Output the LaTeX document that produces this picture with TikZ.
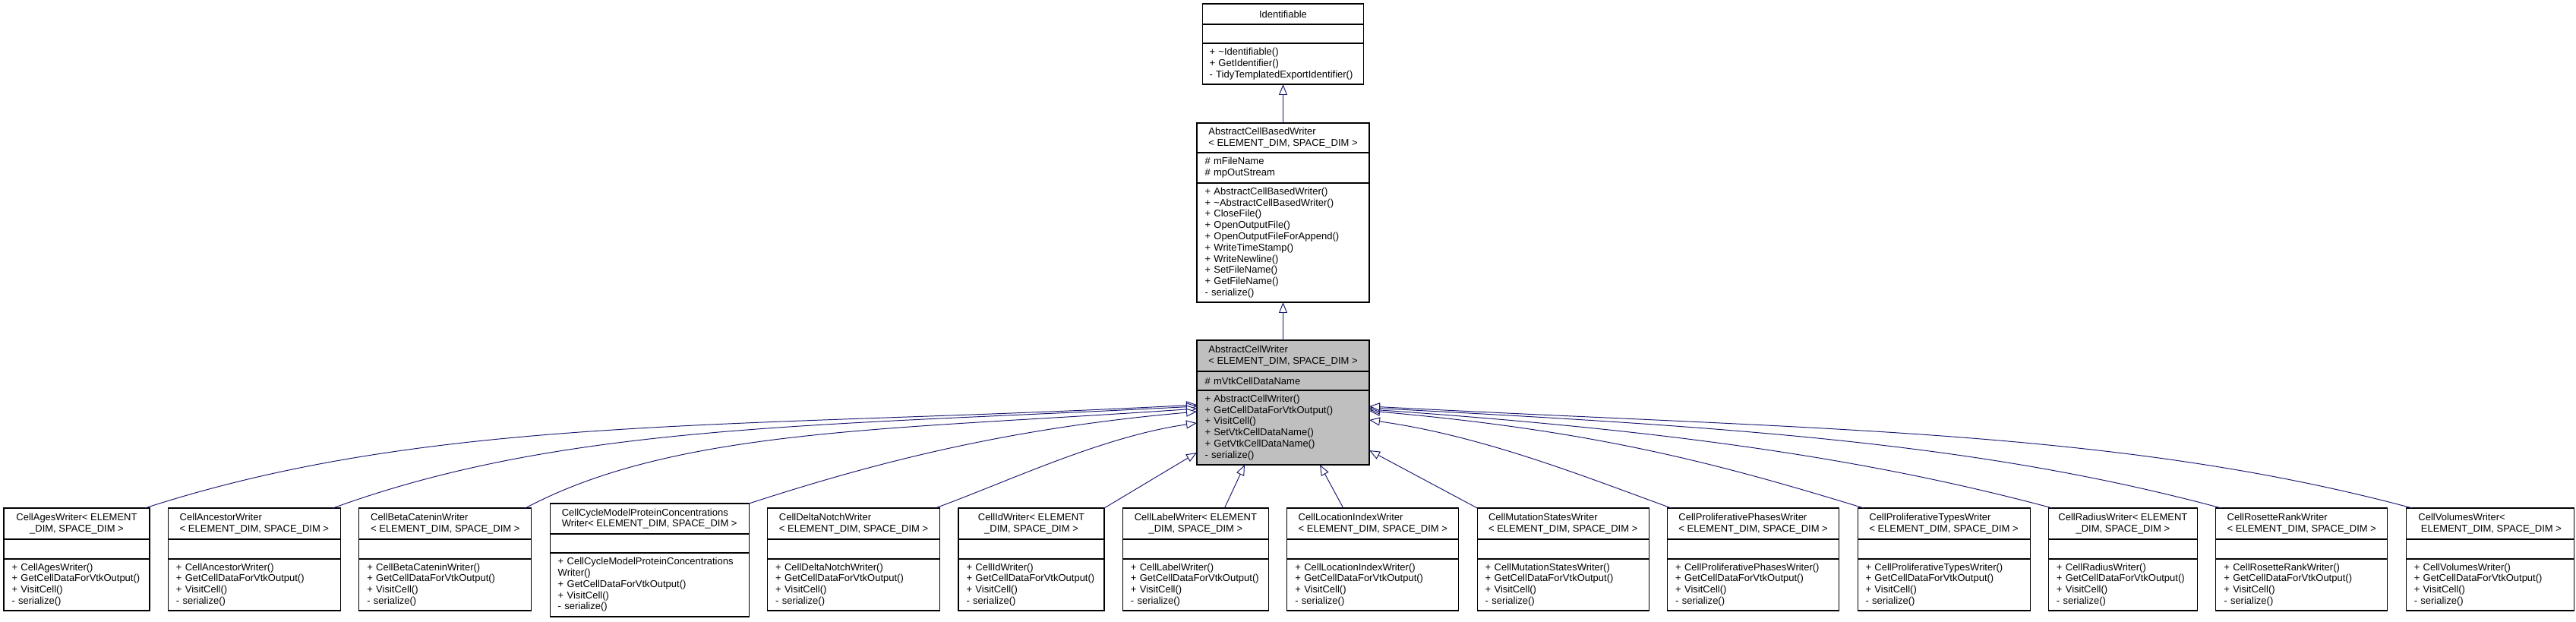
\documentclass[tikz,border=0pt]{standalone}
\usepackage{fontspec}
\setmainfont{Liberation Sans}
\usepackage{tikz}
\usetikzlibrary{arrows.meta,positioning}
\usepackage{xcolor}
\definecolor{dxedge}{RGB}{25,25,112}
\definecolor{dxgrey}{RGB}{191,191,191}
\newcommand{\umlfont}{\fontsize{7.4}{8.4}\selectfont}
\tikzstyle{classhead} = [rectangle, draw=black, line width=0.6pt, outer sep=0pt, inner sep=0pt, align=left, font=\umlfont]
\tikzstyle{classpart} = [rectangle, draw=black, line width=0.6pt, outer sep=0pt, inner xsep=0.21cm, inner ysep=0pt, align=left, font=\umlfont]
\tikzstyle{inheritarrow} = [line width=0.55pt, color=dxedge, -{Triangle[length=0.28cm, width=0.22cm, fill=white]}]

\begin{document}
\begin{tikzpicture}
\useasboundingbox (0,0) rectangle (67.84,-16.38);
% Base classes
\node[classhead, fill=dxgrey, minimum width=4.54cm, minimum height=0.82cm, anchor=north west] (acw) at (31.52,-8.96) {AbstractCellWriter\\< ELEMENT\_DIM, SPACE\_DIM >};
\node[classpart, fill=dxgrey, text width=4.12cm, minimum height=0.5cm, below=0pt of acw] (acw-a) {\# mVtkCellDataName};
\node[classpart, fill=dxgrey, text width=4.12cm, minimum height=1.96cm, below=0pt of acw-a] (acw-m) {+ AbstractCellWriter()\\+ GetCellDataForVtkOutput()\\+ VisitCell()\\+ SetVtkCellDataName()\\+ GetVtkCellDataName()\\- serialize()};

\node[classpart, text width=4.12cm, minimum height=3.14cm, above=1cm of acw] (acbw-m) {+ AbstractCellBasedWriter()\\+ \textasciitilde AbstractCellBasedWriter()\\+ CloseFile()\\+ OpenOutputFile()\\+ OpenOutputFileForAppend()\\+ WriteTimeStamp()\\+ WriteNewline()\\+ SetFileName()\\+ GetFileName()\\- serialize()};
\node[classpart, text width=4.12cm, minimum height=0.8cm, above=0pt of acbw-m] (acbw-a) {\# mFileName\\\# mpOutStream};
\node[classhead, minimum width=4.54cm, minimum height=0.78cm, above=0pt of acbw-a] (acbw) {AbstractCellBasedWriter\\< ELEMENT\_DIM, SPACE\_DIM >};

\node[classpart, inner xsep=0.18cm, text width=3.88cm, minimum height=1.08cm, above=1.02cm of acbw] (ident-m) {+ \textasciitilde Identifiable()\\+ GetIdentifier()\\- TidyTemplatedExportIdentifier()};
\node[classpart, inner xsep=0.18cm, text width=3.88cm, minimum height=0.5cm, above=0pt of ident-m] (ident-a) {};
\node[classhead, minimum width=4.24cm, minimum height=0.54cm, above=0pt of ident-a] (ident) {Identifiable};

\draw[inheritarrow] (acbw.north) -- (ident-m.south);
\draw[inheritarrow] (acw.north) -- (acbw-m.south);

% Writers
\node[classhead, align=center, minimum width=3.84cm, minimum height=0.82cm, anchor=north west] (ages) at (0.1,-13.38) {CellAgesWriter< ELEMENT\\\_DIM, SPACE\_DIM >};
\node[classpart, text width=3.42cm, minimum height=0.52cm, below=0pt of ages] (ages-a) {};
\node[classpart, text width=3.42cm, minimum height=1.36cm, below=0pt of ages-a] (ages-m) {+ CellAgesWriter()\\+ GetCellDataForVtkOutput()\\+ VisitCell()\\- serialize()};

\node[classhead, minimum width=4.54cm, minimum height=0.82cm, right=0.488cm of ages.north east, anchor=north west] (ancestor) {CellAncestorWriter\\< ELEMENT\_DIM, SPACE\_DIM >};
\node[classpart, text width=4.12cm, minimum height=0.52cm, below=0pt of ancestor] (ancestor-a) {};
\node[classpart, text width=4.12cm, minimum height=1.36cm, below=0pt of ancestor-a] (ancestor-m) {+ CellAncestorWriter()\\+ GetCellDataForVtkOutput()\\+ VisitCell()\\- serialize()};

\node[classhead, minimum width=4.54cm, minimum height=0.82cm, right=0.488cm of ancestor.north east, anchor=north west] (beta) {CellBetaCateninWriter\\< ELEMENT\_DIM, SPACE\_DIM >};
\node[classpart, text width=4.12cm, minimum height=0.52cm, below=0pt of beta] (beta-a) {};
\node[classpart, text width=4.12cm, minimum height=1.36cm, below=0pt of beta-a] (beta-m) {+ CellBetaCateninWriter()\\+ GetCellDataForVtkOutput()\\+ VisitCell()\\- serialize()};

\node[classhead, minimum width=5.24cm, minimum height=0.8cm, right=0.488cm of beta.north east, anchor=north west, yshift=0.12cm] (cycle) {CellCycleModelProteinConcentrations\\Writer< ELEMENT\_DIM, SPACE\_DIM >};
\node[classpart, text width=4.82cm, minimum height=0.5cm, below=0pt of cycle] (cycle-a) {};
\node[classpart, text width=4.82cm, minimum height=1.68cm, below=0pt of cycle-a] (cycle-m) {+ CellCycleModelProteinConcentrations\\Writer()\\+ GetCellDataForVtkOutput()\\+ VisitCell()\\- serialize()};

\node[classhead, minimum width=4.54cm, minimum height=0.82cm, right=0.488cm of cycle.north east, anchor=north west, yshift=-0.12cm] (delta) {CellDeltaNotchWriter\\< ELEMENT\_DIM, SPACE\_DIM >};
\node[classpart, text width=4.12cm, minimum height=0.52cm, below=0pt of delta] (delta-a) {};
\node[classpart, text width=4.12cm, minimum height=1.36cm, below=0pt of delta-a] (delta-m) {+ CellDeltaNotchWriter()\\+ GetCellDataForVtkOutput()\\+ VisitCell()\\- serialize()};

\node[classhead, align=center, minimum width=3.84cm, minimum height=0.82cm, right=0.488cm of delta.north east, anchor=north west] (cellid) {CellIdWriter< ELEMENT\\\_DIM, SPACE\_DIM >};
\node[classpart, text width=3.42cm, minimum height=0.52cm, below=0pt of cellid] (cellid-a) {};
\node[classpart, text width=3.42cm, minimum height=1.36cm, below=0pt of cellid-a] (cellid-m) {+ CellIdWriter()\\+ GetCellDataForVtkOutput()\\+ VisitCell()\\- serialize()};

\node[classhead, align=center, minimum width=3.84cm, minimum height=0.82cm, right=0.488cm of cellid.north east, anchor=north west] (label) {CellLabelWriter< ELEMENT\\\_DIM, SPACE\_DIM >};
\node[classpart, text width=3.42cm, minimum height=0.52cm, below=0pt of label] (label-a) {};
\node[classpart, text width=3.42cm, minimum height=1.36cm, below=0pt of label-a] (label-m) {+ CellLabelWriter()\\+ GetCellDataForVtkOutput()\\+ VisitCell()\\- serialize()};

\node[classhead, minimum width=4.52cm, minimum height=0.82cm, right=0.488cm of label.north east, anchor=north west] (location) {CellLocationIndexWriter\\< ELEMENT\_DIM, SPACE\_DIM >};
\node[classpart, text width=4.10cm, minimum height=0.52cm, below=0pt of location] (location-a) {};
\node[classpart, text width=4.10cm, minimum height=1.36cm, below=0pt of location-a] (location-m) {+ CellLocationIndexWriter()\\+ GetCellDataForVtkOutput()\\+ VisitCell()\\- serialize()};

\node[classhead, minimum width=4.52cm, minimum height=0.82cm, right=0.488cm of location.north east, anchor=north west] (mutation) {CellMutationStatesWriter\\< ELEMENT\_DIM, SPACE\_DIM >};
\node[classpart, text width=4.10cm, minimum height=0.52cm, below=0pt of mutation] (mutation-a) {};
\node[classpart, text width=4.10cm, minimum height=1.36cm, below=0pt of mutation-a] (mutation-m) {+ CellMutationStatesWriter()\\+ GetCellDataForVtkOutput()\\+ VisitCell()\\- serialize()};

\node[classhead, minimum width=4.52cm, minimum height=0.82cm, right=0.488cm of mutation.north east, anchor=north west] (phases) {CellProliferativePhasesWriter\\< ELEMENT\_DIM, SPACE\_DIM >};
\node[classpart, text width=4.10cm, minimum height=0.52cm, below=0pt of phases] (phases-a) {};
\node[classpart, text width=4.10cm, minimum height=1.36cm, below=0pt of phases-a] (phases-m) {+ CellProliferativePhasesWriter()\\+ GetCellDataForVtkOutput()\\+ VisitCell()\\- serialize()};

\node[classhead, minimum width=4.54cm, minimum height=0.82cm, right=0.488cm of phases.north east, anchor=north west] (types) {CellProliferativeTypesWriter\\< ELEMENT\_DIM, SPACE\_DIM >};
\node[classpart, text width=4.12cm, minimum height=0.52cm, below=0pt of types] (types-a) {};
\node[classpart, text width=4.12cm, minimum height=1.36cm, below=0pt of types-a] (types-m) {+ CellProliferativeTypesWriter()\\+ GetCellDataForVtkOutput()\\+ VisitCell()\\- serialize()};

\node[classhead, align=center, minimum width=3.92cm, minimum height=0.82cm, right=0.488cm of types.north east, anchor=north west] (radius) {CellRadiusWriter< ELEMENT\\\_DIM, SPACE\_DIM >};
\node[classpart, text width=3.50cm, minimum height=0.52cm, below=0pt of radius] (radius-a) {};
\node[classpart, text width=3.50cm, minimum height=1.36cm, below=0pt of radius-a] (radius-m) {+ CellRadiusWriter()\\+ GetCellDataForVtkOutput()\\+ VisitCell()\\- serialize()};

\node[classhead, minimum width=4.52cm, minimum height=0.82cm, right=0.488cm of radius.north east, anchor=north west] (rosette) {CellRosetteRankWriter\\< ELEMENT\_DIM, SPACE\_DIM >};
\node[classpart, text width=4.10cm, minimum height=0.52cm, below=0pt of rosette] (rosette-a) {};
\node[classpart, text width=4.10cm, minimum height=1.36cm, below=0pt of rosette-a] (rosette-m) {+ CellRosetteRankWriter()\\+ GetCellDataForVtkOutput()\\+ VisitCell()\\- serialize()};

\node[classhead, minimum width=4.42cm, minimum height=0.82cm, right=0.488cm of rosette.north east, anchor=north west] (volumes) {CellVolumesWriter<\\\hspace*{0.5ex}ELEMENT\_DIM, SPACE\_DIM >};
\node[classpart, text width=4.00cm, minimum height=0.52cm, below=0pt of volumes] (volumes-a) {};
\node[classpart, text width=4.00cm, minimum height=1.36cm, below=0pt of volumes-a] (volumes-m) {+ CellVolumesWriter()\\+ GetCellDataForVtkOutput()\\+ VisitCell()\\- serialize()};

% Inheritance from the left
\draw[inheritarrow] ([xshift=-0.12cm]ages.north east) .. controls +(18:8) and +(183:12) .. ([yshift=0.60cm]acw-m.west);
\draw[inheritarrow] ([xshift=-0.2cm]ancestor.north east) .. controls +(20:6.5) and +(183:10) .. ([yshift=0.56cm]acw-m.west);
\draw[inheritarrow] ([xshift=-0.16cm]beta.north east) .. controls +(28:4.5) and +(184:8) .. ([yshift=0.50cm]acw-m.west);
\draw[inheritarrow] (cycle.north east) .. controls +(18:3.5) and +(185:5) .. ([yshift=0.42cm]acw-m.west);
\draw[inheritarrow] ([xshift=-0.12cm]delta.north east) .. controls +(20:2) and +(188:2.5) .. ([yshift=0.12cm]acw-m.west);
\draw[inheritarrow] (cellid.north east) -- ([yshift=-0.66cm]acw-m.west);
% Inheritance from below
\draw[inheritarrow] ([xshift=0.76cm]label.north) -- ([xshift=-1.01cm]acw-m.south);
\draw[inheritarrow] ([xshift=-0.78cm]location.north) -- ([xshift=0.97cm]acw-m.south);
% Inheritance from the right
\draw[inheritarrow] (mutation.north west) -- ([yshift=-0.6cm]acw-m.east);
\draw[inheritarrow] ([xshift=0.1cm]phases.north west) .. controls +(160:2.5) and +(-8:3) .. ([yshift=0.2cm]acw-m.east);
\draw[inheritarrow] ([xshift=0.16cm]types.north west) .. controls +(163:4) and +(-5:6) .. ([yshift=0.44cm]acw-m.east);
\draw[inheritarrow] ([xshift=0.1cm]radius.north west) .. controls +(165:5) and +(-4:8) .. ([yshift=0.48cm]acw-m.east);
\draw[inheritarrow] ([xshift=0.14cm]rosette.north west) .. controls +(165:6.5) and +(-3:10) .. ([yshift=0.52cm]acw-m.east);
\draw[inheritarrow] ([xshift=0.16cm]volumes.north west) .. controls +(165:8) and +(-3:12) .. ([yshift=0.56cm]acw-m.east);
\end{tikzpicture}
\end{document}
